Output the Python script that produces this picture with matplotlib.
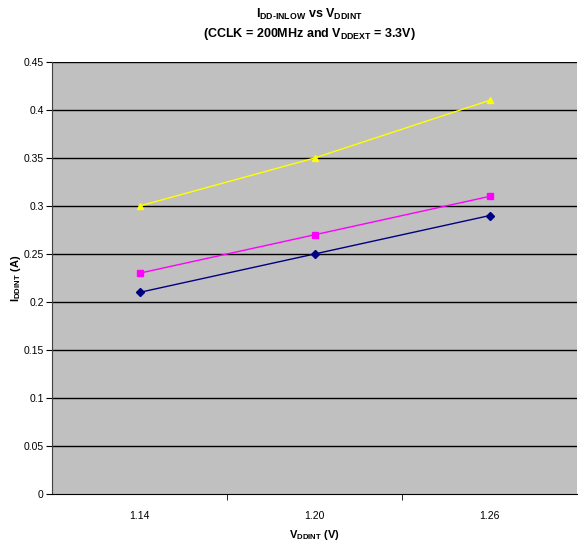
import numpy as np
import matplotlib.pyplot as plt

plt.rcParams['font.family'] = ['Liberation Sans', 'DejaVu Sans']
plt.rcParams['mathtext.fontset'] = 'custom'
plt.rcParams['mathtext.rm'] = 'Liberation Sans:bold'
plt.rcParams['mathtext.it'] = 'Liberation Sans:bold'
plt.rcParams['mathtext.bf'] = 'Liberation Sans:bold'

vddint = ['1.14', '1.20', '1.26']
curr_yellow = [0.30, 0.35, 0.41]
curr_magenta = [0.23, 0.27, 0.31]
curr_navy = [0.21, 0.25, 0.29]
yticks = np.arange(0, 0.451, 0.05)

fig = plt.figure(figsize=(5.79, 5.46), dpi=100)
ax = fig.add_axes([52/579, 52/546, 525/579, 432/546])
ax.set_facecolor('#C0C0C0')

x = np.arange(len(vddint))
ax.plot(x, curr_yellow, color='#FFFF00', marker='^', ms=5, lw=1)
ax.plot(x, curr_magenta, color='#FF00FF', marker='s', ms=5, lw=1)
ax.plot(x, curr_navy, color='#000080', marker='D', ms=4, lw=1)

ax.set_xlim(-0.5, 2.5)
ax.set_ylim(0, 0.45)
ax.set_yticks(yticks)
ax.set_yticklabels([('%g' % round(v, 2)) for v in yticks])
ax.set_xticks(x)
ax.set_xticklabels(vddint)
ax.set_xticks([0.5, 1.5], minor=True)
ax.tick_params(axis='x', which='major', length=0, pad=12, labelsize=7.5)
ax.tick_params(axis='x', which='minor', length=4, direction='out')
ax.tick_params(axis='y', length=4, direction='out', labelsize=7.5, pad=2)
for v in yticks[1:]:
    ax.axhline(v, color='black', lw=1, zorder=1)
ax.spines['right'].set_visible(False)
ax.spines['top'].set_visible(False)
ax.spines['left'].set_color('#404040')

ax.set_xlabel(r'V$_{\mathregular{DDINT}}$ (V)', fontsize=8, fontweight='bold', labelpad=5)
ax.set_ylabel(r'I$_{\mathregular{DDINT}}$ (A)', fontsize=8, fontweight='bold', labelpad=0)
fig.text(0.535, 0.987, r'I$_{\mathregular{DD\text{-}INLOW}}$ vs V$_{\mathregular{DDINT}}$',
         ha='center', va='top', fontsize=9, fontweight='bold')
fig.text(0.535, 0.952, r'(CCLK = 200MHz and V$_{\mathregular{DDEXT}}$ = 3.3V)',
         ha='center', va='top', fontsize=9, fontweight='bold')

fig.savefig('out.png', dpi=100)
